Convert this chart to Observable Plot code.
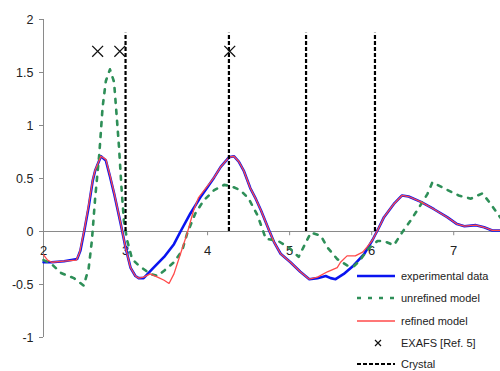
<!DOCTYPE html>
<html>
<head>
<meta charset="utf-8">
<script src="https://cdn.jsdelivr.net/npm/d3@7"></script>
<script src="https://cdn.jsdelivr.net/npm/@observablehq/plot@0.6"></script>
<style>
  html, body { margin: 0; padding: 0; background: #fff; }
  #wrap { position: relative; width: 500px; height: 371px; font-family: "Liberation Sans", Arial, sans-serif; }
  .leg { position: absolute; left: 357px; height: 16px; display: flex; align-items: center; font-size: 11px; color: #222; white-space: nowrap; }
  .leg svg { display: block; margin-right: 4px; }
</style>
</head>
<body>
<div id="wrap"></div>
<script>
// ---- data ----
const expX = [2.00,2.10,2.25,2.41,2.45,2.50,2.55,2.60,2.63,2.70,2.76,2.81,2.86,2.94,3.00,3.06,3.12,3.16,3.22,3.27,3.33,3.47,3.59,3.67,3.79,3.91,4.00,4.08,4.16,4.26,4.32,4.38,4.44,4.52,4.58,4.65,4.75,4.81,4.89,5.01,5.13,5.24,5.34,5.44,5.50,5.56,5.66,5.78,5.91,6.01,6.09,6.15,6.27,6.37,6.45,6.60,6.76,6.92,7.04,7.13,7.27,7.37,7.47,7.57];
const expY = [-0.29,-0.29,-0.28,-0.26,-0.18,0.02,0.23,0.48,0.575,0.71,0.67,0.52,0.36,0.075,-0.15,-0.34,-0.42,-0.44,-0.44,-0.40,-0.35,-0.24,-0.12,0.0,0.17,0.32,0.42,0.51,0.61,0.70,0.71,0.66,0.575,0.41,0.32,0.20,0.01,-0.10,-0.21,-0.29,-0.38,-0.45,-0.44,-0.42,-0.44,-0.45,-0.40,-0.32,-0.21,-0.08,0.04,0.135,0.26,0.34,0.33,0.28,0.21,0.135,0.07,0.05,0.06,0.04,0.01,0.01];

const unrefX = [2.00,2.09,2.21,2.37,2.49,2.55,2.59,2.63,2.68,2.72,2.76,2.81,2.86,2.89,2.92,2.95,2.98,3.02,3.08,3.16,3.30,3.39,3.47,3.59,3.69,3.75,3.85,3.95,4.08,4.20,4.28,4.40,4.50,4.61,4.71,4.85,4.99,5.11,5.20,5.26,5.38,5.46,5.58,5.70,5.78,5.86,5.95,6.07,6.15,6.27,6.37,6.48,6.58,6.68,6.74,6.90,7.06,7.21,7.35,7.45,7.57];
const unrefY = [-0.27,-0.30,-0.39,-0.44,-0.51,-0.35,-0.085,0.32,0.73,1.17,1.42,1.53,1.41,1.11,0.80,0.42,0.10,-0.085,-0.26,-0.32,-0.40,-0.42,-0.37,-0.29,-0.18,-0.02,0.17,0.29,0.39,0.44,0.43,0.39,0.31,0.15,-0.07,-0.085,-0.15,-0.24,-0.10,-0.01,-0.04,-0.15,-0.26,-0.32,-0.33,-0.27,-0.17,-0.09,-0.09,-0.13,-0.01,0.11,0.23,0.355,0.465,0.40,0.34,0.31,0.36,0.26,0.13];

const refX = [2.00,2.05,2.10,2.25,2.40,2.44,2.50,2.55,2.60,2.63,2.70,2.76,2.81,2.86,2.94,3.00,3.06,3.12,3.16,3.22,3.30,3.39,3.47,3.53,3.59,3.67,3.75,3.83,3.89,3.95,4.00,4.08,4.16,4.26,4.32,4.38,4.44,4.52,4.58,4.65,4.75,4.81,4.89,5.01,5.13,5.24,5.34,5.46,5.58,5.62,5.70,5.80,5.89,5.95,6.01,6.09,6.15,6.27,6.37,6.45,6.60,6.76,6.92,7.04,7.13,7.27,7.37,7.47,7.57];
const refY = [-0.22,-0.27,-0.29,-0.28,-0.27,-0.20,0.03,0.25,0.49,0.58,0.71,0.68,0.53,0.37,0.08,-0.15,-0.34,-0.42,-0.44,-0.43,-0.40,-0.43,-0.46,-0.49,-0.40,-0.21,-0.02,0.20,0.32,0.38,0.43,0.51,0.61,0.70,0.71,0.66,0.575,0.41,0.32,0.20,0.01,-0.10,-0.21,-0.29,-0.38,-0.45,-0.43,-0.38,-0.34,-0.29,-0.23,-0.23,-0.195,-0.14,-0.08,0.04,0.135,0.26,0.34,0.33,0.28,0.21,0.135,0.07,0.05,0.06,0.04,0.01,0.01];

const exafsX = [2.66, 2.93, 4.27];
const exafsY = 1.70;
const crystalX = [3.00, 4.26, 5.20, 6.04];
const crystalTop = 1.87;

const xTicks = [2, 3, 4, 5, 6, 7];
const yTicks = [-1, -0.5, 0, 0.5, 1, 1.5, 2];
const xDomain = [2, 7.57];
const yDomain = [-1, 2];

const seriesNames = ["experimental data", "unrefined model", "refined model", "EXAFS [Ref. 5]", "Crystal"];

const toRows = (xs, ys) => xs.map((x, i) => ({x, y: ys[i]}));
const expData = toRows(expX, expY);
const unrefData = toRows(unrefX, unrefY);
const refData = toRows(refX, refY);

const colBlue = "#0a14f0", colGreen = "#2e8f58", colRed = "#ff4a4a";

const chart = Plot.plot({
  width: 500,
  height: 371,
  marginLeft: 43,
  marginRight: 0,
  marginTop: 19,
  marginBottom: 34,
  style: {fontFamily: '"Liberation Sans", Arial, sans-serif', fontSize: "12px", background: "white", color: "#222"},
  x: {domain: xDomain, axis: null},
  y: {domain: yDomain, axis: null},
  marks: [
    Plot.ruleX([xDomain[0]], {stroke: "#8a8a8a", strokeWidth: 1}),
    Plot.ruleY([0], {stroke: "#8a8a8a", strokeWidth: 1}),
    Plot.axisY({ticks: yTicks, tickSize: 4, tickPadding: 6, tickFormat: d => String(d), label: null, stroke: "#8a8a8a", fill: "#222", fontSize: 12.5}),
    Plot.ruleX(xTicks, {x: d => d, y1: 0, y2: -0.04, stroke: "#8a8a8a"}),
    Plot.text(xTicks, {x: d => d, y: () => 0, text: d => String(d), dy: 19, fontSize: 13, fill: "#222"}),
    Plot.line(expData, {x: "x", y: "y", stroke: colBlue, strokeWidth: 2.6}),
    Plot.line(unrefData, {x: "x", y: "y", stroke: colGreen, strokeWidth: 2.6, strokeDasharray: "4,7"}),
    Plot.line(refData, {x: "x", y: "y", stroke: colRed, strokeWidth: 1.3}),
    Plot.ruleX(crystalX, {x: d => d, y1: 0, y2: () => crystalTop, stroke: "#000", strokeWidth: 2.2, strokeDasharray: "4,2"}),
    Plot.dot(exafsX, {x: d => d, y: () => exafsY, symbol: "times", r: 5, stroke: "#111", strokeWidth: 1.3})
  ]
});

const wrap = document.getElementById("wrap");
wrap.appendChild(chart);

// legend overlay
const swatches = [
  `<line x1="0" y1="6" x2="38" y2="6" stroke="${colBlue}" stroke-width="2.6"/>`,
  `<line x1="0" y1="6" x2="38" y2="6" stroke="${colGreen}" stroke-width="2.6" stroke-dasharray="4,7"/>`,
  `<line x1="0" y1="6" x2="38" y2="6" stroke="${colRed}" stroke-width="1.6"/>`,
  `<path d="M18,3L24,9M24,3L18,9" stroke="#111" stroke-width="1.2"/>`,
  `<line x1="0" y1="6" x2="38" y2="6" stroke="#000" stroke-width="2.2" stroke-dasharray="4,2"/>`
];
const legTops = [268, 290, 313, 335, 356];
seriesNames.forEach((name, i) => {
  const div = document.createElement("div");
  div.className = "leg";
  div.style.top = legTops[i] + "px";
  div.innerHTML = `<svg width="40" height="12">${swatches[i]}</svg><span>${name}</span>`;
  wrap.appendChild(div);
});
</script>
</body>
</html>
